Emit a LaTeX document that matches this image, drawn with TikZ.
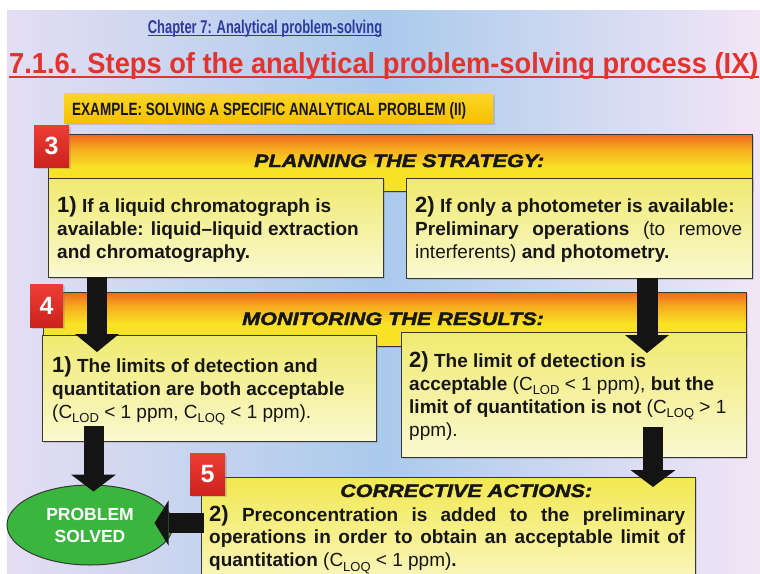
\documentclass[tikz,border=0pt]{standalone}
\usepackage{fontspec}
\setmainfont{Liberation Sans}
\newfontfamily\narrowfont[FakeStretch=0.7]{Liberation Sans}
\newfontfamily\bannerfont[FakeStretch=0.76]{Liberation Sans}
\newfontfamily\headfont[FakeStretch=0.94]{Liberation Sans}
\newfontface\blackfont[FakeStretch=1.2,FakeBold=2.2]{Liberation Sans Bold Italic}
\usetikzlibrary{shapes.geometric,arrows.meta,shadows}

\definecolor{bgblue}{RGB}{170,202,236}
\definecolor{bglav}{RGB}{228,222,242}
\definecolor{bglavr}{RGB}{242,230,246}
\definecolor{hdorange}{RGB}{238,104,32}
\definecolor{hdmid}{RGB}{246,170,30}
\definecolor{hdyellow}{RGB}{248,226,38}
\definecolor{bxtop}{RGB}{240,234,112}
\definecolor{bxbot}{RGB}{250,248,208}
\definecolor{bxfivetop}{RGB}{242,232,80}
\definecolor{badgetop}{RGB}{236,62,52}
\definecolor{badgebot}{RGB}{204,34,30}
\definecolor{edgegray}{RGB}{55,55,55}
\definecolor{titleblue}{RGB}{45,58,158}
\definecolor{titlered}{RGB}{228,50,45}
\definecolor{goldtop}{RGB}{250,214,40}
\definecolor{goldbot}{RGB}{245,192,0}
\definecolor{okgreen}{RGB}{58,182,62}
\definecolor{arrowblk}{RGB}{20,20,20}
\definecolor{textblk}{RGB}{22,22,22}

\pgfdeclareverticalshading{hdrshade}{100bp}{color(0bp)=(hdyellow); color(25bp)=(hdyellow); color(46bp)=(hdyellow); color(62bp)=(hdmid); color(75bp)=(hdorange); color(100bp)=(hdorange)}

\newcommand\lsub[1]{\raisebox{-0.25em}{\fontsize{13}{13}\selectfont #1}}
\newcommand\bignum[1]{{\fontsize{22}{23}\selectfont #1}}

\tikzset{
  hdrbar/.style={shade, shading=hdrshade, draw=edgegray, line width=0.9pt, anchor=north west, inner sep=0, outer sep=0,
    drop shadow={shadow xshift=2pt, shadow yshift=-2pt, opacity=0.3}},
  pbox/.style={top color=bxtop, bottom color=bxbot, draw=edgegray, line width=0.9pt, anchor=north west, inner sep=0, outer sep=0,
    drop shadow={shadow xshift=2pt, shadow yshift=-2pt, opacity=0.3}},
  badge/.style={top color=badgetop, bottom color=badgebot, minimum width=35pt, minimum height=42pt, inner sep=0, outer sep=0,
    text=white, font=\bfseries\fontsize{25}{25}\selectfont,
    drop shadow={shadow xshift=1.5pt, shadow yshift=-1.5pt, opacity=0.3}},
  sectitle/.style={anchor=base west, inner sep=0, text=textblk, font=\blackfont\fontsize{18}{18}\selectfont},
  txt/.style={anchor=base west, inner sep=0, text=textblk, font=\fontsize{19}{23}\selectfont},
  bigarrow/.style={draw=arrowblk, line width=20pt, -{Triangle[width=44pt,length=18pt,line width=0pt]}},
}

\begin{document}
\begin{tikzpicture}[x=1pt,y=-1pt]
\useasboundingbox (0,0) rectangle (760,573);
\clip (0,0) rectangle (760,573);
\fill[white] (0,0) rectangle (760,573);
\shade[left color=bglav, right color=bglavr, middle color=bgblue] (7,10) rectangle (760,573);

% titles
\node[anchor=base, inner sep=0, text=titleblue, font=\narrowfont\bfseries\fontsize{18.5}{20}\selectfont] (chap) at (265,33) {Chapter 7: Analytical problem-solving};
\draw[titleblue, line width=1.2pt] ([yshift=-2.8pt]chap.base west) -- ([yshift=-2.8pt]chap.base east);

\node[anchor=base west, inner sep=0, text=titlered, font=\headfont\bfseries\fontsize{29}{30}\selectfont] (head) at (9,73.3) {7.1.6. Steps of the analytical problem-solving process (IX)};
\draw[titlered, line width=1.8pt] ([yshift=-3.4pt]head.base west) -- ([yshift=-3.4pt]head.base east);

% banner
\node[top color=goldtop, bottom color=goldbot, anchor=north west, minimum width=429pt, minimum height=30pt, inner sep=0, outer sep=0,
  drop shadow={shadow xshift=2pt, shadow yshift=-2pt, opacity=0.3}] (banner) at (64,93) {};
\node[anchor=base west, inner sep=0, text=textblk, font=\bannerfont\bfseries\fontsize{17.8}{19}\selectfont] (bannerT) at (72,115.7) {EXAMPLE: SOLVING A SPECIFIC ANALYTICAL PROBLEM (II)};

% section 3
\node[hdrbar, minimum width=704pt, minimum height=57pt] (h3) at (48,134) {};
\node[sectitle] (s3) at (254,167) {PLANNING THE STRATEGY:};
\node[pbox, minimum width=335pt, minimum height=99pt] (b31) at (48,178) {};
\node[pbox, minimum width=346pt, minimum height=100pt] (b32) at (406,178) {};
\node[txt] (t31) at (57,212) {\parbox[t]{322pt}{\bfseries\bignum{1)} If a liquid chromatograph is\\
available: liquid--liquid extraction\\
and chromatography.}};
\node[txt] (t32) at (415,212) {\parbox[t]{327pt}{\textbf{\bignum{2)} If only a photometer is available:}\\
\makebox[\linewidth][s]{\textbf{Preliminary operations} (to remove}\\
interferents) \textbf{and photometry.}}};
\node[badge] (n3) at (51.5,146) {3};

% section 4
\node[hdrbar, minimum width=703pt, minimum height=54pt] (h4) at (43,292) {};
\node[sectitle] (s4) at (242,325) {MONITORING THE RESULTS:};
\node[pbox, minimum width=334pt, minimum height=106pt] (b41) at (42,335) {};
\node[pbox, minimum width=345pt, minimum height=125pt] (b42) at (401,332) {};
\node[txt] (t41) at (52,372) {\parbox[t]{320pt}{\textbf{\bignum{1)} The limits of detection and}\\
\textbf{quantitation are both acceptable}\\
(C\lsub{LOD} < 1 ppm, C\lsub{LOQ} < 1 ppm).}};
\node[txt] (t42) at (409,367) {\parbox[t]{330pt}{\textbf{\bignum{2)} The limit of detection is}\\
\textbf{acceptable} (C\lsub{LOD} < 1 ppm), \textbf{but the}\\
\textbf{limit of quantitation is not} (C\lsub{LOQ} > 1\\
ppm).}};
\node[badge, minimum width=33pt, minimum height=43pt] (n4) at (46.5,305.5) {4};

% section 5
\node[pbox, top color=bxfivetop, minimum width=494pt, minimum height=120pt] (b5) at (201,477) {};
\node[sectitle] (s5) at (340,497) {CORRECTIVE ACTIONS:};
\node[txt] (t5) at (209,521) {\parbox[t]{476pt}{\fontsize{19}{22.8}\selectfont\makebox[\linewidth][s]{\bfseries\bignum{2)} Preconcentration is added to the preliminary}\\
\makebox[\linewidth][s]{\bfseries operations in order to obtain an acceptable limit of}\\
\textbf{quantitation} (C\lsub{LOQ} < 1 ppm)\textbf{.}}};
\node[badge] (n5) at (207.5,474) {5};

% result
\node[ellipse, draw=edgegray, line width=1pt, fill=okgreen, minimum width=166pt, minimum height=80pt, inner sep=0,
  text=white, align=center, font=\bfseries\fontsize{17.5}{22}\selectfont] (solved) at (90,525) {PROBLEM\\SOLVED};

% arrows
\draw[bigarrow] ([xshift=49pt]b31.south west) -- ([xshift=55pt,yshift=-17pt]b41.north west);
\draw[bigarrow, line width=21pt] ([xshift=241pt]b32.south west) -- ([xshift=246pt,yshift=-21pt]b42.north west);
\draw[bigarrow, -{Triangle[width=45pt,length=17pt,line width=0pt]}] ([xshift=51.5pt,yshift=15pt]b41.south west) -- ([xshift=3.5pt,yshift=-7pt]solved.north);
\draw[bigarrow, -{Triangle[width=45pt,length=17pt,line width=0pt]}] ([xshift=252pt,yshift=30pt]b42.south west) -- ([xshift=452pt,yshift=-10pt]b5.north west);
\draw[bigarrow, -{Triangle[width=45pt,length=14pt,line width=0pt]}] ([xshift=3pt,yshift=-46pt]b5.north west) -- ([xshift=-19pt,yshift=2pt]solved.east);
\end{tikzpicture}
\end{document}
